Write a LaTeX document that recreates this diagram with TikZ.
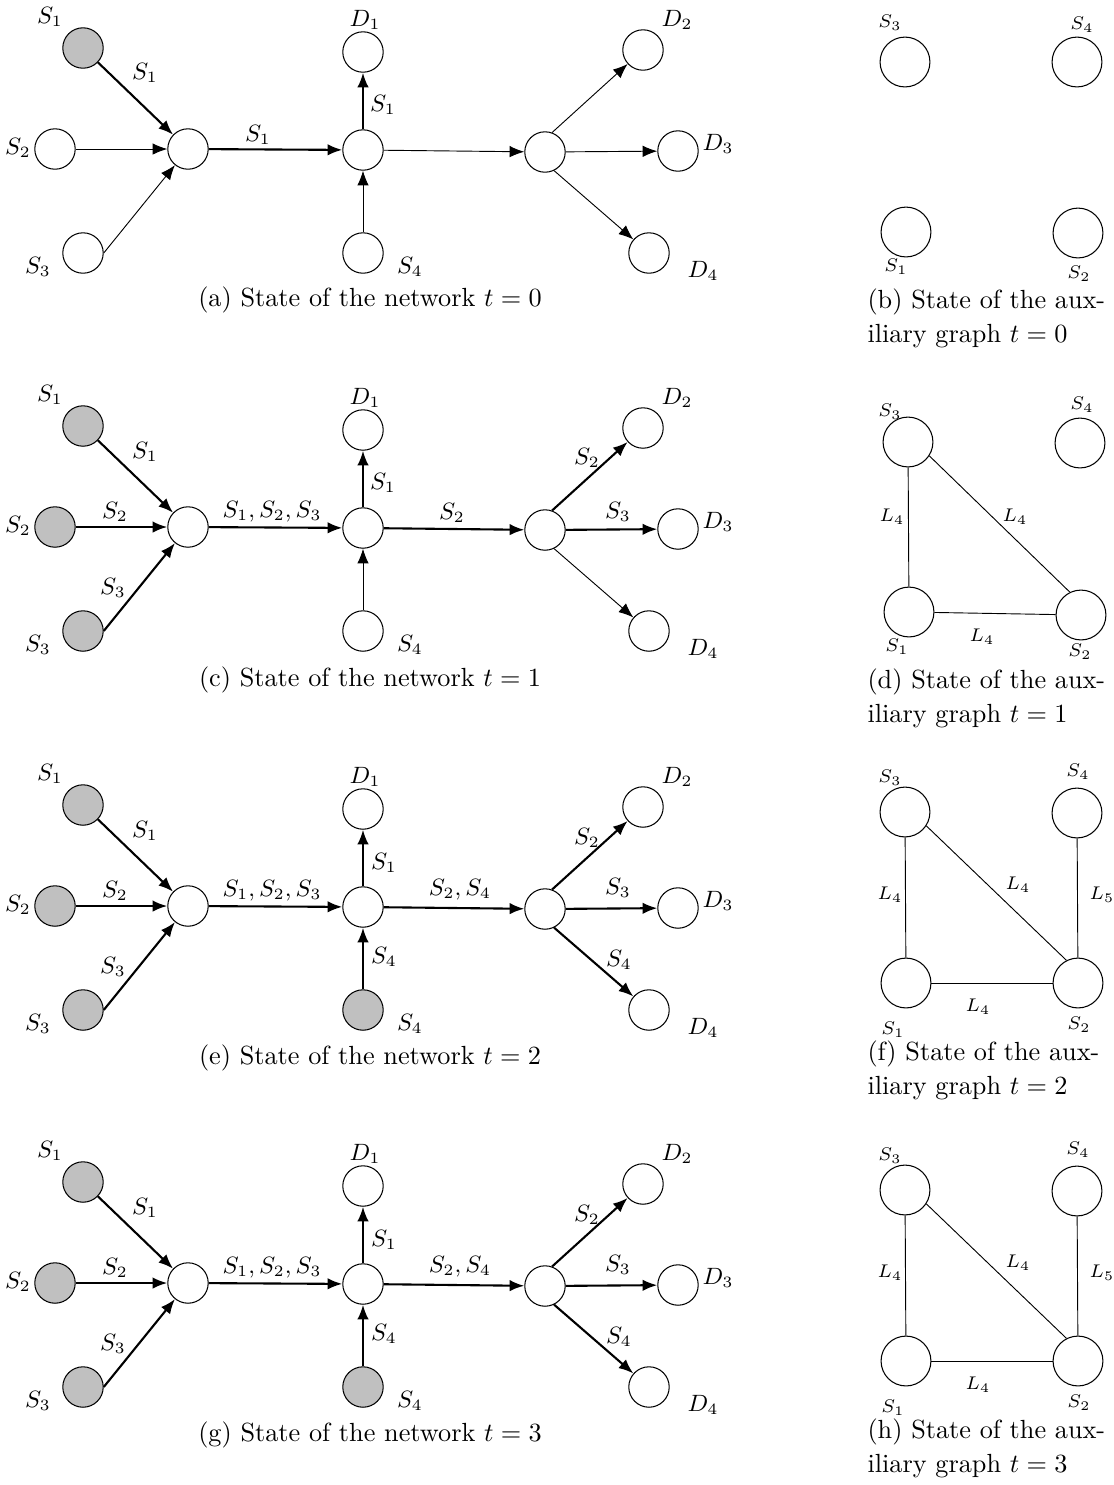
\documentclass[tikz,border=0pt]{standalone}
\usetikzlibrary{arrows.meta}
\definecolor{srcgray}{RGB}{192,192,192}
\tikzset{
  net/.style={circle, draw, line width=0.4pt, minimum size=15.4pt, inner sep=0pt},
  aux/.style={circle, draw, line width=0.4pt, minimum size=19pt, inner sep=0pt},
  flow/.style={line width=0.8pt, -{Latex[length=5.6pt,width=4.4pt]}},
  idle/.style={line width=0.35pt, -{Latex[length=5.6pt,width=4.4pt]}},
  link/.style={line width=0.35pt},
  lbl/.style={inner sep=0pt, font=\small},
  alb/.style={inner sep=0pt, font=\scriptsize},
  capnet/.style={inner sep=0pt},
  capaux/.style={inner sep=0pt, anchor=west, align=left},
}
% network nodes: #1 prefix, #2..#5 fills of the sources S1..S4
\newcommand\netnodes[5]{%
  \node[net, fill=#2] (#1s1) at (83,48) {};
  \node[net, fill=#3] (#1s2) at (55,149) {};
  \node[net, fill=#4] (#1s3) at (83,253) {};
  \node[net, fill=#5] (#1s4) at (363,253) {};
  \node[net] (#1h1) at (188,149) {};
  \node[net] (#1h2) at (363,150) {};
  \node[net] (#1h3) at (545,152) {};
  \node[net] (#1d1) at (363,52) {};
  \node[net] (#1d2) at (643,50) {};
  \node[net] (#1d3) at (678,151) {};
  \node[net] (#1d4) at (649,253) {};
  \node[lbl] (#1ls1) at (50,17) {$S_1$};
  \node[lbl] (#1ls2) at (18,148) {$S_2$};
  \node[lbl] (#1ls3) at (38,267) {$S_3$};
  \node[lbl] (#1ls4) at (410,267) {$S_4$};
  \node[lbl] (#1ld1) at (365,20) {$D_1$};
  \node[lbl] (#1ld2) at (677,20) {$D_2$};
  \node[lbl] (#1ld3) at (718,144) {$D_3$};
  \node[lbl] (#1ld4) at (703,271) {$D_4$};
}
% auxiliary graph nodes: #1 prefix, #2..#5 centres of S3, S4, S1, S2
\newcommand\auxnodes[5]{%
  \node[aux] (#1a3) at #2 {};
  \node[aux] (#1a4) at #3 {};
  \node[aux] (#1a1) at #4 {};
  \node[aux] (#1a2) at #5 {};
}
\begin{document}
\begin{tikzpicture}[x=0.381pt, y=-0.381pt]
\useasboundingbox (0,0) rectangle (1114,1485);

% ---------- (a) t = 0 ----------
\begin{scope}
  \netnodes{a}{srcgray}{white}{white}{white}
  \draw[flow] (as1) -- (ah1);
  \draw[idle] (as2) -- (ah1);
  \draw[idle] (as3.east) -- (ah1);
  \draw[flow] (ah1) -- (ah2);
  \draw[flow] (ah2) -- (ad1);
  \draw[idle] (as4) -- (ah2);
  \draw[idle] (ah2) -- (ah3);
  \draw[idle] (ah3.70) -- (ad2);
  \draw[idle] (ah3) -- (ad3);
  \draw[idle] (ah3.-64) -- (ad4);
  \node[lbl] (ae1) at (145,73) {$S_1$};
  \node[lbl] (ae2) at (258,135) {$S_1$};
  \node[lbl] (ae3) at (383,105) {$S_1$};
  \node[capnet] (capa) at (370,300) {(a) State of the network $t=0$};
\end{scope}

% ---------- (c) t = 1 ----------
\begin{scope}[shift={(0,378)}]
  \netnodes{c}{srcgray}{srcgray}{srcgray}{white}
  \draw[flow] (cs1) -- (ch1);
  \draw[flow] (cs2) -- (ch1);
  \draw[flow] (cs3.east) -- (ch1);
  \draw[flow] (ch1) -- (ch2);
  \draw[flow] (ch2) -- (cd1);
  \draw[idle] (cs4) -- (ch2);
  \draw[flow] (ch2) -- (ch3);
  \draw[flow] (ch3.70) -- (cd2);
  \draw[flow] (ch3) -- (cd3);
  \draw[idle] (ch3.-64) -- (cd4);
  \node[lbl] (ce1) at (145,74) {$S_1$};
  \node[lbl] (ce2) at (115,134) {$S_2$};
  \node[lbl] (ce3) at (113,210) {$S_3$};
  \node[lbl] (ce4) at (272,134) {$S_1,S_2,S_3$};
  \node[lbl] (ce5) at (383,105) {$S_1$};
  \node[lbl] (ce6) at (452,135) {$S_2$};
  \node[lbl] (ce7) at (587,80) {$S_2$};
  \node[lbl] (ce8) at (618,134) {$S_3$};
  \node[capnet] (capc) at (370,302) {(c) State of the network $t=1$};
\end{scope}

% ---------- (e) t = 2 and (g) t = 3 ----------
\foreach \p/\dy/\tt/\cl in {e/757/2/e, g/1134/3/g}{
\begin{scope}[shift={(0,\dy)}]
  \netnodes{\p}{srcgray}{srcgray}{srcgray}{srcgray}
  \draw[flow] (\p s1) -- (\p h1);
  \draw[flow] (\p s2) -- (\p h1);
  \draw[flow] (\p s3.east) -- (\p h1);
  \draw[flow] (\p h1) -- (\p h2);
  \draw[flow] (\p h2) -- (\p d1);
  \draw[flow] (\p s4) -- (\p h2);
  \draw[flow] (\p h2) -- (\p h3);
  \draw[flow] (\p h3.70) -- (\p d2);
  \draw[flow] (\p h3) -- (\p d3);
  \draw[flow] (\p h3.-64) -- (\p d4);
  \node[lbl] (\p e1) at (145,74) {$S_1$};
  \node[lbl] (\p e2) at (115,134) {$S_2$};
  \node[lbl] (\p e3) at (113,210) {$S_3$};
  \node[lbl] (\p e4) at (272,134) {$S_1,S_2,S_3$};
  \node[lbl] (\p e5) at (384,106) {$S_1$};
  \node[lbl] (\p e6) at (384,200) {$S_4$};
  \node[lbl] (\p e7) at (460,133) {$S_2,S_4$};
  \node[lbl] (\p e8) at (587,81) {$S_2$};
  \node[lbl] (\p e9) at (618,131) {$S_3$};
  \node[lbl] (\p e10) at (619,203) {$S_4$};
  \node[capnet] (cap\p) at (370,301) {(\cl) State of the network $t=\tt$};
\end{scope}
}

% ---------- (b) auxiliary graph t = 0 ----------
\auxnodes{b}{(905,62)}{(1077,62)}{(906,232)}{(1078,233)}
\node[alb] (bl3) at (890,23) {$S_3$};
\node[alb] (bl4) at (1082,25) {$S_4$};
\node[alb] (bl1) at (896,267) {$S_1$};
\node[alb] (bl2) at (1079,274) {$S_2$};
\node[capaux] (capb) at (867,318) {(b) State of the aux-\\[1pt]iliary graph $t=0$};

% ---------- (d) auxiliary graph t = 1 ----------
\auxnodes{d}{(908,442)}{(1080,443)}{(909,612)}{(1081,615)}
\node[alb] (dl3) at (890,412) {$S_3$};
\node[alb] (dl4) at (1082,405) {$S_4$};
\node[alb] (dl1) at (897,647) {$S_1$};
\node[alb] (dl2) at (1080,652) {$S_2$};
\draw[link] (da3) -- (da1);
\draw[link] (da3.-33) -- (da2.116);
\draw[link] (da1) -- (da2);
\node[alb] (de1) at (892,517) {$L_4$};
\node[alb] (de2) at (1015,517) {$L_4$};
\node[alb] (de3) at (982,637) {$L_4$};
\node[capaux] (capd) at (867,698) {(d) State of the aux-\\[1pt]iliary graph $t=1$};

% ---------- (f) t = 2 and (h) t = 3 ----------
\foreach \p/\dy/\tt/\cl in {f/0/2/f, h/378/3/h}{
\begin{scope}[shift={(0,\dy)}]
  \auxnodes{\p}{(905,812)}{(1077,813)}{(906,983)}{(1078,983)}
  \node[alb] (\p l3) at (890,778) {$S_3$};
  \node[alb] (\p l4) at (1078,772) {$S_4$};
  \node[alb] (\p l1) at (893,1030) {$S_1$};
  \node[alb] (\p l2) at (1079,1025) {$S_2$};
  \draw[link] (\p a3) -- (\p a1);
  \draw[link] (\p a3.-33) -- (\p a2.117);
  \draw[link] (\p a1) -- (\p a2);
  \draw[link] (\p a4) -- (\p a2);
  \node[alb] (\p e1) at (890,895) {$L_4$};
  \node[alb] (\p e2) at (1018,885) {$L_4$};
  \node[alb] (\p e3) at (1102,895) {$L_5$};
  \node[alb] (\p e4) at (978,1007) {$L_4$};
  \node[capaux] (cap\p) at (867,1070) {(\cl) State of the aux-\\[1pt]iliary graph $t=\tt$};
\end{scope}
}
\end{tikzpicture}
\end{document}
